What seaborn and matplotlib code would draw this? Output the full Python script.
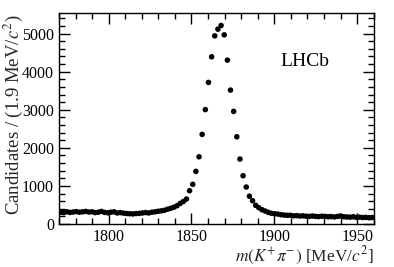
import numpy as np
import pandas as pd
import matplotlib
matplotlib.use("Agg")
import matplotlib.pyplot as plt
import seaborn as sns
from matplotlib.ticker import MultipleLocator

# Histogram: 100 bins of 1.9 MeV from 1770 to 1960
bin_lo = 1770.0
bin_width = 1.9
counts = [
    # bins 0-19
    310, 300, 320, 305, 315, 325, 310, 320, 330, 315,
    320, 300, 310, 330, 305, 295, 310, 320, 290, 300,
    # bins 20-39
    285, 275, 270, 265, 275, 280, 290, 300, 290, 310,
    320, 335, 345, 360, 390, 412, 440, 480, 540, 590,
    # bins 40-59
    656, 874, 1042, 1383, 1766, 2354, 3005, 3719, 4391, 4942,
    5118, 5215, 4968, 4304, 3517, 2958, 2291, 1706, 1268, 971,
    # bins 60-79
    730, 612, 490, 428, 375, 341, 307, 281, 270, 262,
    245, 235, 228, 230, 215, 220, 210, 215, 205, 200,
    # bins 80-99
    210, 200, 195, 205, 200, 190, 195, 185, 200, 210,
    190, 185, 180, 190, 175, 180, 170, 175, 165, 170,
]
centers = [bin_lo + bin_width * (i + 0.5) for i in range(len(counts))]
df = pd.DataFrame({"mass": centers, "count": counts})

sns.set_theme(style="ticks")
plt.rcParams["font.family"] = ["Liberation Serif", "DejaVu Serif"]
plt.rcParams["mathtext.fontset"] = "stix"

fig = plt.figure(figsize=(3.94, 2.67), dpi=100)
ax = fig.add_axes([0.1497, 0.161, 0.7988, 0.790])

sns.scatterplot(data=df, x="mass", y="count", ax=ax, color="black",
                s=16, edgecolor="none", linewidth=0, legend=False)

ax.set_xlim(1770, 1960)
ax.set_ylim(0, 5540)
ax.xaxis.set_major_locator(MultipleLocator(50))
ax.xaxis.set_minor_locator(MultipleLocator(10))
ax.yaxis.set_major_locator(MultipleLocator(1000))
ax.yaxis.set_minor_locator(MultipleLocator(200))
ax.tick_params(which="both", direction="in", top=True, right=True,
               labelsize=11.5, colors="black", width=1.0)
ax.tick_params(which="major", length=8)
ax.tick_params(which="minor", length=4)
for s in ax.spines.values():
    s.set_linewidth(1.0)
    s.set_color("black")

ax.set_xlabel(r"$m(K^{+}\pi^{-})$ [MeV/$c^{2}$]", fontsize=12.5, loc="right", labelpad=0)
ax.set_ylabel(r"Candidates / (1.9 MeV/$c^{2}$)", fontsize=13.5, loc="top")
ax.yaxis.set_label_coords(-0.108, 0.995)
ax.text(0.86, 0.77, "LHCb", transform=ax.transAxes, fontsize=14,
        ha="right", va="center", color="black")

fig.savefig("out.png", dpi=100)
